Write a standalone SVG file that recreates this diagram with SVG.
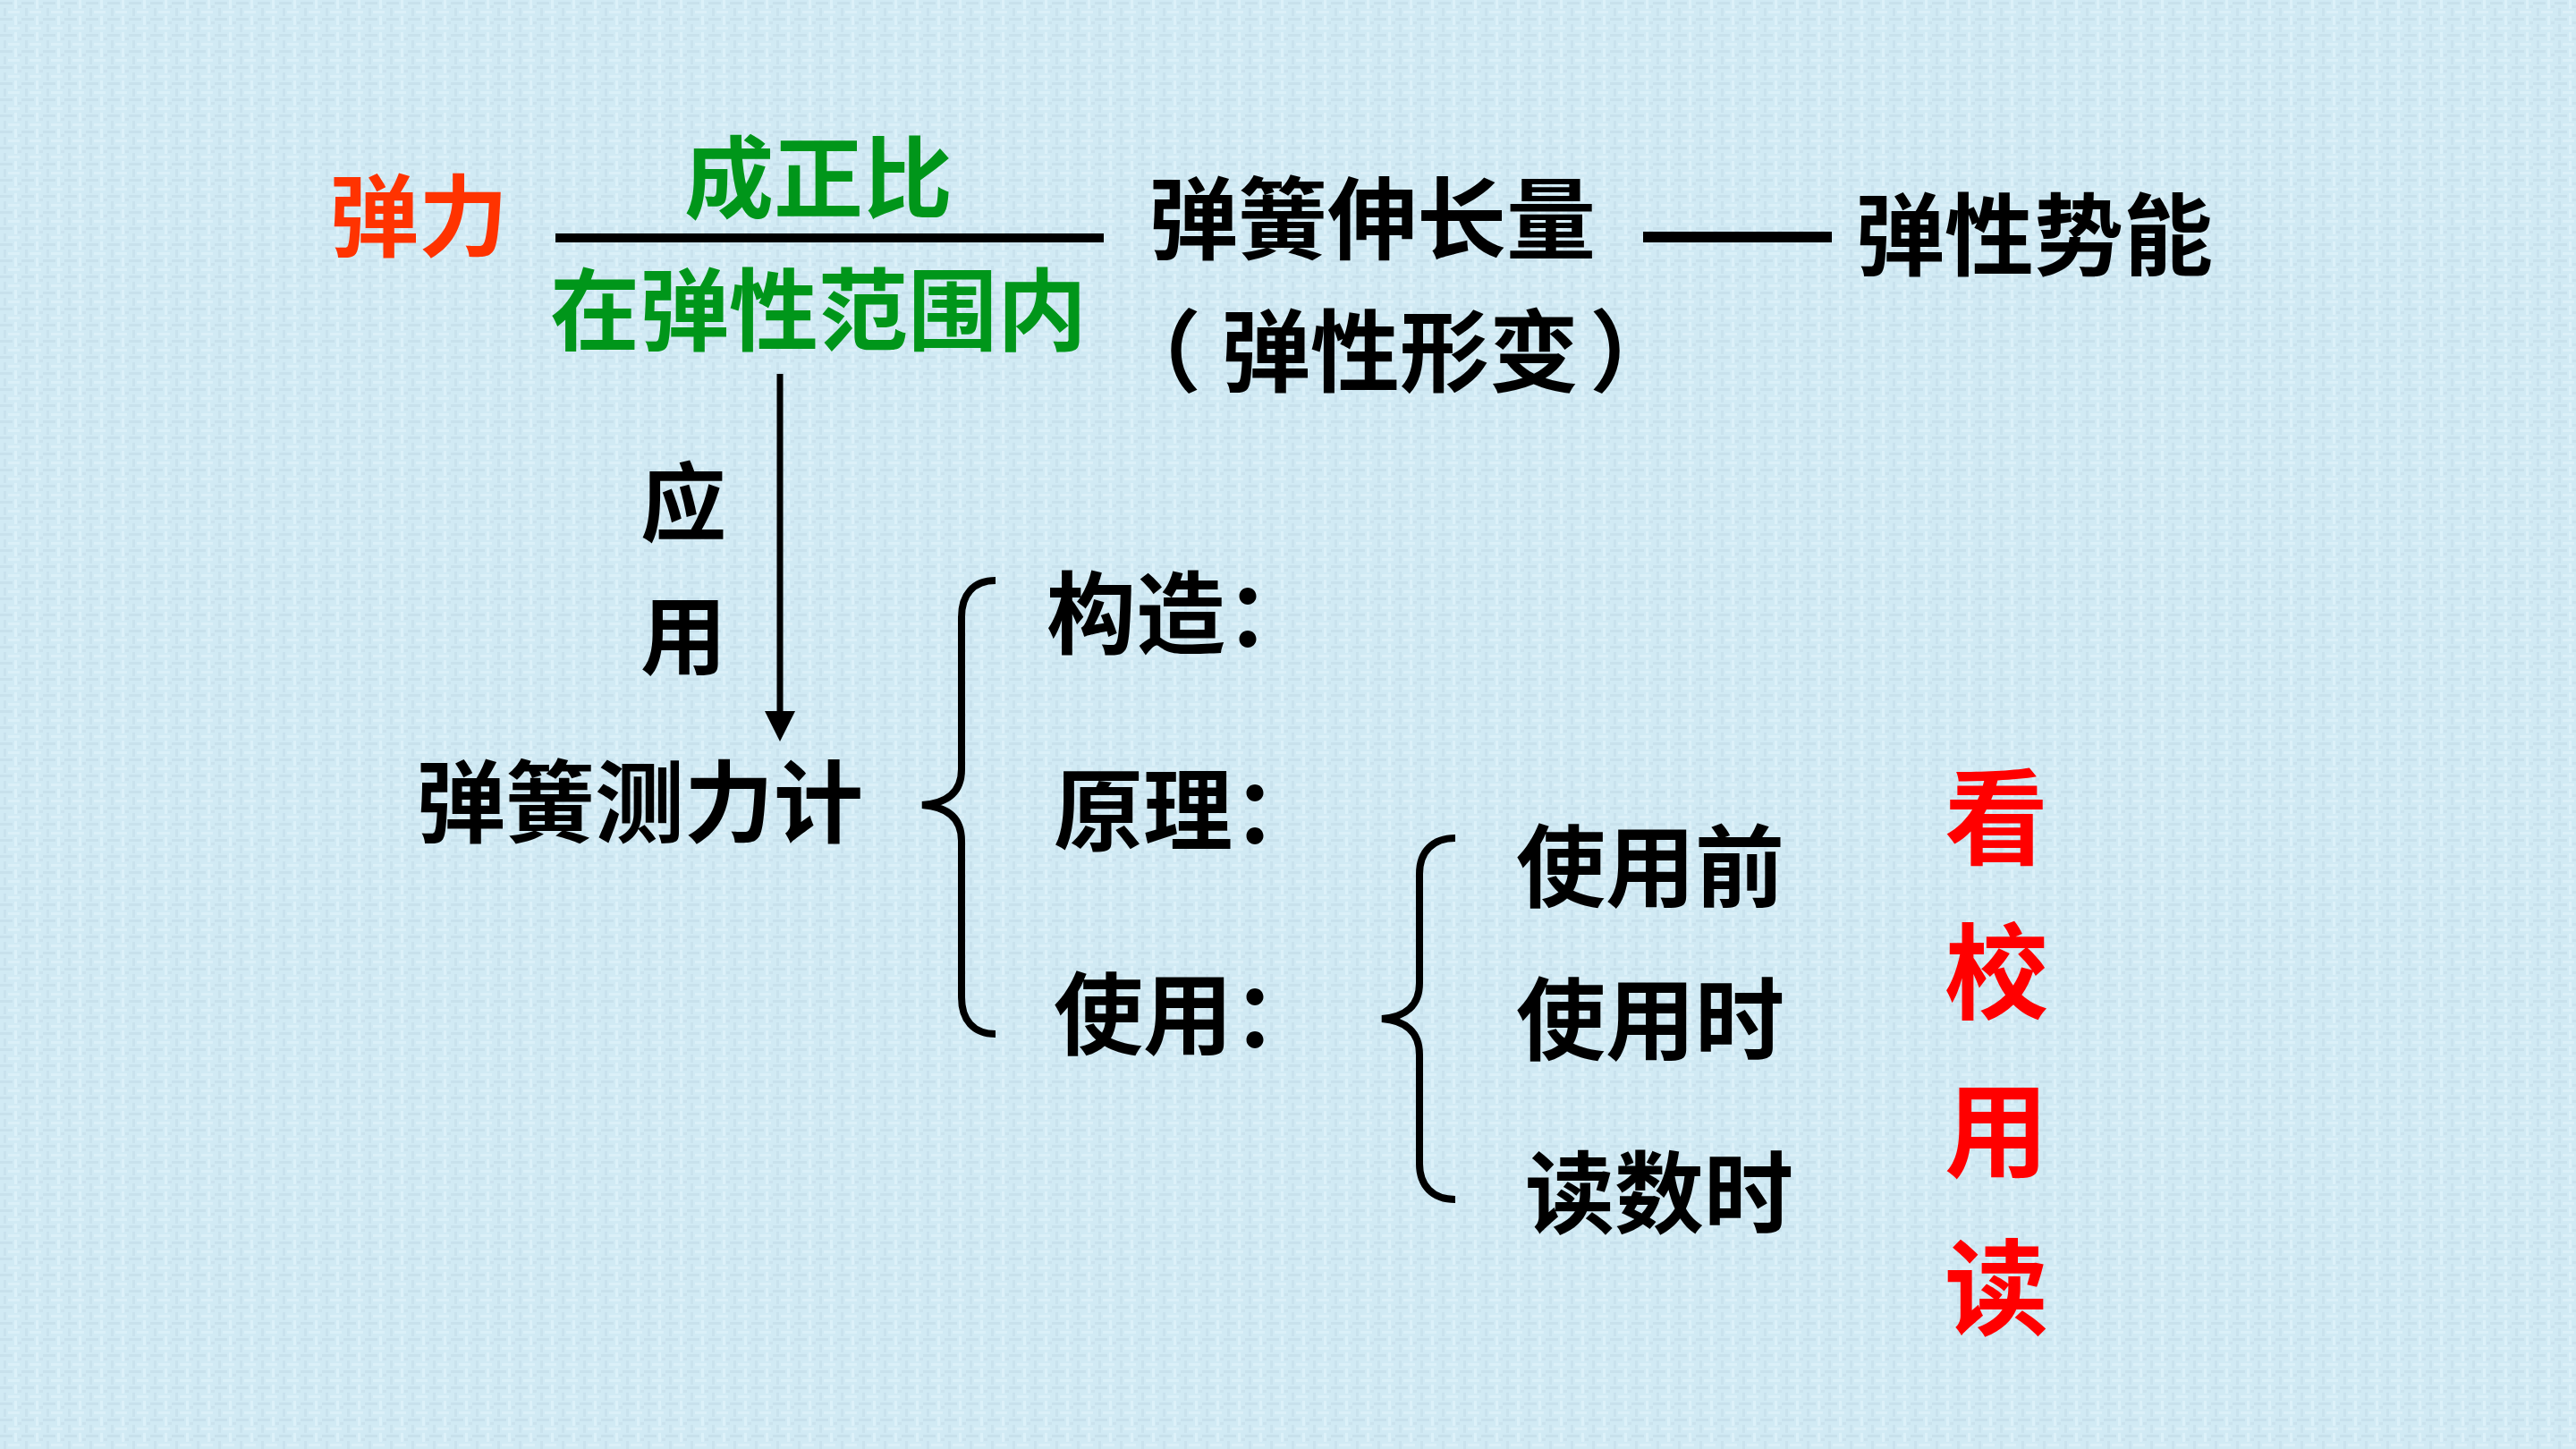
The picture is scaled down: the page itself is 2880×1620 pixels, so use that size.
<svg xmlns="http://www.w3.org/2000/svg" width="2880" height="1620" viewBox="0 0 2880 1620">
  <defs>
    <pattern id="tex" width="24" height="18" patternUnits="userSpaceOnUse">
      <rect width="24" height="18" fill="#d1eaf4"/>
      <rect x="0" y="2" width="14" height="3" fill="#c8e1ec"/>
      <rect x="16" y="0" width="3" height="10" fill="#dcf1f9"/>
      <rect x="4" y="9" width="3" height="9" fill="#c9e2ed"/>
      <rect x="9" y="12" width="13" height="3" fill="#dbf0f8"/>
      <rect x="20" y="6" width="4" height="3" fill="#cae2ed"/>
    </pattern>
    <marker id="arr" markerUnits="userSpaceOnUse" markerWidth="34" markerHeight="34" viewBox="0 0 34 34" refX="0" refY="17" orient="auto">
      <path d="M0,0 L34,17 L0,34 z" fill="#000"/>
    </marker>
    <style>
      text { font-family: "Noto Sans CJK SC", "Noto Sans", sans-serif; font-weight: bold; font-size: 100px; fill: #000; }
      .mid { text-anchor: middle; }
      .red1 { fill: #ff3300; }
      .green { fill: #00961a; }
      .red { fill: #ff0000; font-size: 116px; }
      .ln { stroke: #000; fill: none; }
    </style>
  </defs>
  <rect width="2880" height="1620" fill="url(#tex)"/>

  <g id="connectors">
    <line class="ln" x1="621" y1="266" x2="1234" y2="266" stroke-width="10"/>
    <line class="ln" x1="1837" y1="265" x2="2048" y2="265" stroke-width="12"/>
    <line class="ln" x1="872" y1="418" x2="872" y2="795" stroke-width="7" marker-end="url(#arr)"/>
    <path class="ln" stroke-width="8" d="M1113,649 C1088,649 1075,665 1075,690 L1075,860 C1075,885 1060,898 1031,900 C1060,902 1075,915 1075,940 L1075,1115 C1075,1140 1088,1156 1113,1156"/>
    <path class="ln" stroke-width="8" d="M1627,937 C1602,937 1587,952 1587,977 L1587,1099 C1587,1124 1572,1137 1545,1139 C1572,1141 1587,1154 1587,1179 L1587,1301 C1587,1326 1602,1341 1627,1341"/>
  </g>

  <g id="n-tanli"><text class="mid red1" x="468" y="279">弹力</text></g>
  <g id="n-zhengbi"><text class="mid green" x="915" y="236">成正比</text></g>
  <g id="n-fanwei"><text class="mid green" x="915" y="384">在弹性范围内</text></g>
  <g id="n-shenchang"><text class="mid" x="1534" y="282">弹簧伸长量</text></g>
  <g id="n-xingbian"><text x="1243" y="430">（<tspan x="1365">弹性形变</tspan><tspan x="1777">）</tspan></text></g>
  <g id="n-shineng"><text class="mid" x="2274" y="300">弹性势能</text></g>
  <g id="n-yingyong">
    <text class="mid" x="764" y="597" style="font-size:96px">应</text>
    <text class="mid" x="764" y="746" style="font-size:96px">用</text>
  </g>
  <g id="n-celiji"><text class="mid" x="715" y="934">弹簧测力计</text></g>
  <g id="n-gouzao"><text x="1170" y="723">构造：</text></g>
  <g id="n-yuanli"><text x="1178" y="943">原理：</text></g>
  <g id="n-shiyong"><text x="1178" y="1171">使用：</text></g>
  <g id="n-qian"><text class="mid" x="1845" y="1006">使用前</text></g>
  <g id="n-shi"><text class="mid" x="1845" y="1177">使用时</text></g>
  <g id="n-dushu"><text class="mid" x="1855" y="1371">读数时</text></g>
  <g id="n-kanjiao">
    <text class="mid red" x="2232" y="957">看</text>
    <text class="mid red" x="2232" y="1130">校</text>
    <text class="mid red" x="2232" y="1307">用</text>
    <text class="mid red" x="2232" y="1483">读</text>
  </g>
</svg>
